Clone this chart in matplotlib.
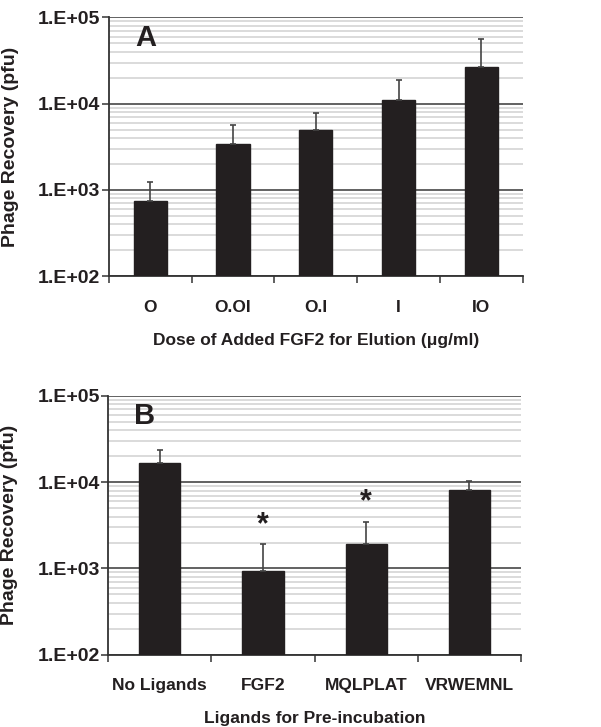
import matplotlib
matplotlib.use("Agg")
import matplotlib.pyplot as plt
import numpy as np

plt.rcParams['font.family'] = ['Liberation Sans', 'DejaVu Sans']
plt.rcParams['font.weight'] = 'bold'
plt.rcParams['axes.labelweight'] = 'bold'

# panel A data
doses = ["O", "O.OI", "O.I", "I", "IO"]
recovery_a = [750, 3450, 5000, 11100, 26700]
err_a = [480, 2150, 2750, 7500, 29000]

# panel B data
ligands = ["No Ligands", "FGF2", "MQLPLAT", "VRWEMNL"]
recovery_b = [16600, 940, 1930, 8200]
err_b = [7300, 970, 1570, 2050]
signif_b = [False, True, True, False]

ytick_vals = [1e2, 1e3, 1e4, 1e5]
ytick_labels = ["1.E+02", "1.E+03", "1.E+04", "1.E+05"]

dark = "#231f20"

fig = plt.figure(figsize=(6.01, 7.27), dpi=100)
ax_a = fig.add_axes([0.181, 0.620, 0.689, 0.356])
ax_b = fig.add_axes([0.180, 0.0994, 0.687, 0.3559])


def draw_panel(ax, cats, vals, errs, letter, xlabel):
    x = np.arange(len(cats))
    ax.bar(x, vals, width=0.4, color=dark, edgecolor=dark, zorder=3)
    ax.errorbar(x, vals, yerr=[np.zeros(len(vals)), errs], fmt="none",
                ecolor="#444444", elinewidth=1.2, capsize=2.5, capthick=1.2, zorder=4)
    ax.set_yscale("log")
    ax.set_ylim(1e2, 1e5)
    ax.set_xlim(-0.5, len(cats) - 0.5)
    ax.set_yticks(ytick_vals, ytick_labels)
    ax.yaxis.set_minor_locator(matplotlib.ticker.LogLocator(base=10, subs=np.arange(2, 10)))
    ax.yaxis.set_minor_formatter(matplotlib.ticker.NullFormatter())
    ax.tick_params(axis="y", which="minor", length=0)
    ax.tick_params(axis="y", which="major", length=5, width=1.2, color="#444444",
                   labelsize=14, pad=1, labelcolor=dark)
    ax.set_xticks(x, cats)
    ax.set_xticks(np.arange(len(cats) + 1) - 0.5, minor=True)
    ax.tick_params(axis="x", which="major", length=0, labelsize=12.5, pad=17, labelcolor=dark)
    ax.tick_params(axis="x", which="minor", length=5, width=1.2, color="#444444")
    ax.grid(axis="y", which="major", color="#555555", lw=1.3, zorder=1)
    ax.grid(axis="y", which="minor", color="#d4d4d4", lw=1.2, zorder=1)
    for s in ["top", "right"]:
        ax.spines[s].set_visible(False)
    for s in ["left", "bottom"]:
        ax.spines[s].set_color("#333333")
        ax.spines[s].set_linewidth(1.3)
    ax.set_ylabel("Phage Recovery (pfu)", fontsize=14, fontweight="bold", color=dark, labelpad=14)
    ax.set_xlabel(xlabel, fontsize=12.5, fontweight="bold", color=dark, labelpad=13)
    ax.text(0.063, 0.975, letter, transform=ax.transAxes, fontsize=21,
            fontweight="bold", va="top", ha="left", color=dark, zorder=5)


draw_panel(ax_a, doses, recovery_a, err_a, "A",
           "Dose of Added FGF2 for Elution (\u03bcg/ml)")
draw_panel(ax_b, ligands, recovery_b, err_b, "B", "Ligands for Pre-incubation")

for i, flag in enumerate(signif_b):
    if flag:
        top = recovery_b[i] + err_b[i]
        ax_b.text(i, top * 1.12, "*", ha="center", va="bottom",
                  fontsize=22, fontweight="bold", color=dark, zorder=5)

fig.savefig("out.png", dpi=100)
